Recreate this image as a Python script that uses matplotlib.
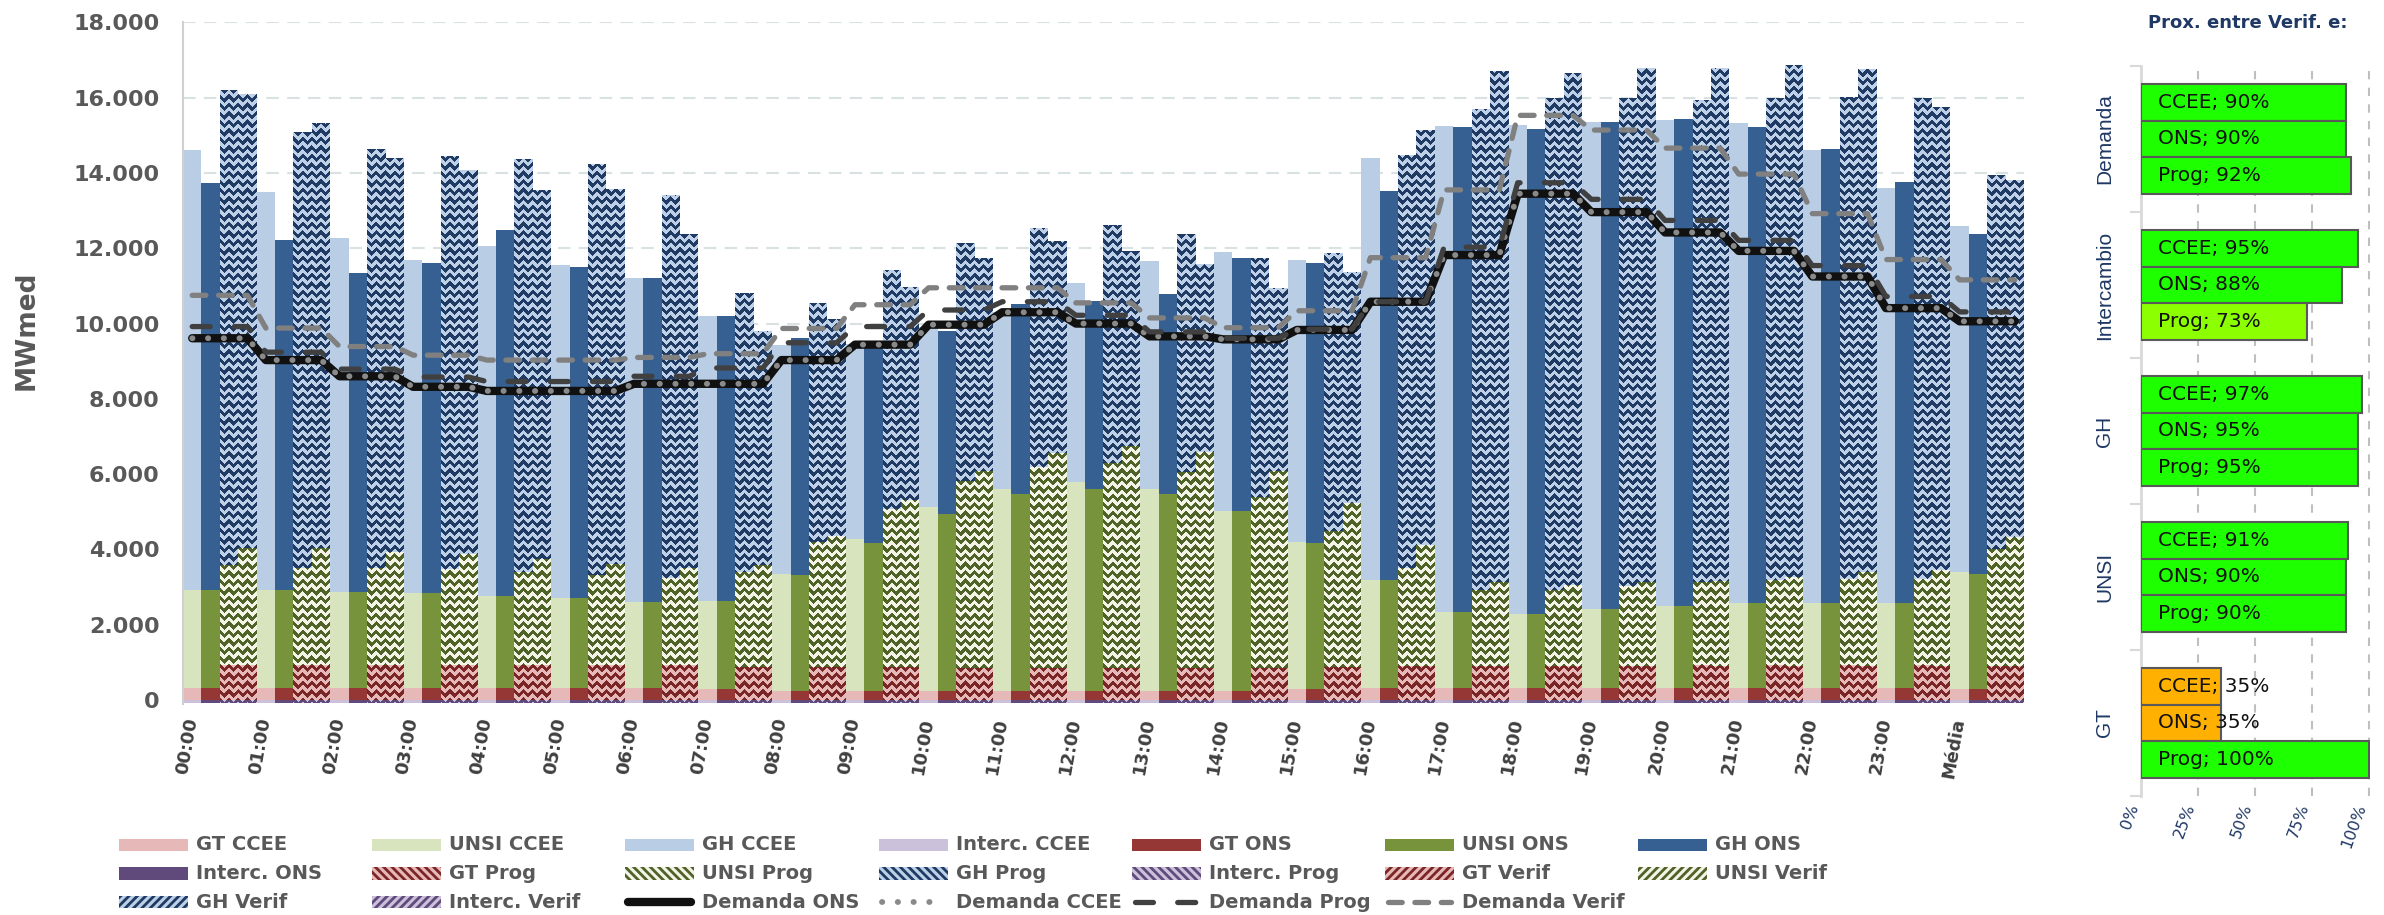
import numpy as np
import matplotlib
matplotlib.use("Agg")
import matplotlib.pyplot as plt
from matplotlib.patches import Rectangle
from matplotlib.lines import Line2D
from matplotlib.path import Path
from matplotlib import font_manager

# ---------------------------------------------------------------- data (MWmed)
hour_labels = [f"{h:02d}:00" for h in range(24)] + ["Média"]

gt_ccee = [330, 330, 330, 330, 330, 330, 320, 280, 250, 250, 250, 250, 250, 250, 250, 300, 310, 310, 310, 310, 310, 310, 310, 310, 300]
unsi_ccee = [2600, 2580, 2550, 2520, 2440, 2370, 2290, 2360, 3100, 4030, 4870, 5360, 5530, 5360, 4780, 3890, 2870, 2040, 1980, 2110, 2200, 2260, 2280, 2260, 3110]
gh_ccee = [11670, 10580, 9380, 8850, 9300, 8850, 8610, 7550, 6080, 5170, 4780, 4690, 5300, 6040, 6870, 7490, 11230, 12900, 12980, 12940, 12910, 12770, 12020, 11030, 9170]
interc_ccee = [-90] * 25

gt_ons = [330, 330, 330, 330, 330, 330, 320, 280, 250, 250, 250, 250, 250, 250, 250, 290, 310, 310, 310, 310, 310, 310, 310, 310, 290]
unsi_ons = [2600, 2580, 2550, 2520, 2440, 2370, 2290, 2360, 3060, 3910, 4690, 5220, 5360, 5220, 4780, 3870, 2870, 2040, 1980, 2110, 2200, 2260, 2280, 2260, 3060]
gh_ons = [10810, 9320, 8450, 8770, 9720, 8810, 8610, 7550, 6300, 5240, 4860, 5060, 4980, 5310, 6720, 7460, 10330, 12880, 12870, 12940, 12930, 12650, 12040, 11200, 9040]
interc_ons = [-90] * 25

gt_prog = [930, 930, 930, 930, 930, 930, 920, 880, 880, 870, 860, 860, 860, 860, 860, 890, 900, 910, 910, 910, 920, 920, 920, 920, 900]
unsi_prog = [2650, 2590, 2590, 2560, 2480, 2400, 2320, 2530, 3330, 4210, 4950, 5340, 5430, 5200, 4530, 3600, 2600, 2000, 2000, 2110, 2210, 2260, 2300, 2300, 3120]
gh_prog = [12620, 11560, 11120, 10950, 10970, 10920, 10170, 7410, 6330, 6330, 6340, 6350, 6340, 6310, 6340, 7380, 10990, 12780, 13070, 12960, 12810, 12820, 12810, 12780, 9920]
interc_prog = [-90] * 25

gt_verif = [930, 930, 930, 930, 930, 930, 920, 880, 880, 870, 860, 860, 860, 860, 860, 880, 900, 910, 910, 910, 910, 910, 910, 910, 900]
unsi_verif = [3110, 3110, 3000, 2950, 2810, 2680, 2580, 2700, 3480, 4440, 5230, 5700, 5900, 5730, 5230, 4350, 3230, 2220, 2150, 2220, 2240, 2350, 2480, 2550, 3440]
gh_verif = [12070, 11290, 10480, 10200, 9800, 9970, 8870, 6230, 5750, 5660, 5660, 5620, 5170, 5000, 4860, 6140, 11010, 13570, 13590, 13650, 13630, 13610, 13370, 12290, 9460]
interc_verif = [-90] * 25

dem_ons = [9610, 9030, 8600, 8320, 8210, 8210, 8400, 8400, 9030, 9440, 9970, 10300, 10000, 9660, 9580, 9830, 10580, 11820, 13450, 12960, 12420, 11930, 11250, 10410, 10060]
dem_ccee = [9610, 9030, 8600, 8320, 8210, 8210, 8400, 8400, 9030, 9440, 9970, 10300, 10000, 9660, 9580, 9830, 10580, 11820, 13450, 12960, 12420, 11930, 11250, 10410, 10060]
dem_prog = [9920, 9240, 8790, 8580, 8460, 8460, 8600, 8820, 9490, 9920, 10360, 10580, 10220, 9780, 9610, 9850, 10580, 12030, 13740, 13300, 12740, 12210, 11540, 10720, 10310]
dem_verif = [10750, 9880, 9390, 9160, 9030, 9030, 9100, 9200, 9870, 10500, 10950, 10950, 10550, 10150, 9890, 10340, 11750, 13550, 15530, 15140, 14660, 13970, 12920, 11700, 11160]

# proximity between verified values and each source (%)
prox_categories = ["Demanda", "Intercambio", "GH", "UNSI", "GT"]
prox_sources = ["CCEE", "ONS", "Prog"]
prox_ccee = [90, 95, 97, 91, 35]
prox_ons = [90, 88, 95, 90, 35]
prox_prog = [92, 73, 95, 90, 100]

# ---------------------------------------------------------------- styling
W_PX, H_PX = 2384, 915
available = {f.name for f in font_manager.fontManager.ttflist}
NARROW = "Liberation Sans Narrow" if "Liberation Sans Narrow" in available else "Liberation Sans"
GRAY_TXT = "#595959"
NAVY = "#1F3864"

SOLID = {
    "CCEE": {"GT": "#E6B9B8", "UNSI": "#D7E4BD", "GH": "#B9CDE5", "Interc": "#CCC1DA"},
    "ONS": {"GT": "#953735", "UNSI": "#77933C", "GH": "#366092", "Interc": "#604A7B"},
}
# (pattern colour, background colour) for the patterned series
PATTERN = {
    "GT": ("#7A2626", "#E6B9B8"),
    "UNSI": ("#4F6228", "#F4F4E6"),
    "GH": ("#1F3A63", "#BDD0E7"),
    "Interc": ("#604A7B", "#CCC1DA"),
}

plt.rcParams["font.family"] = ["DejaVu Sans"]
plt.rcParams["hatch.linewidth"] = 2.0

fig = plt.figure(figsize=(W_PX / 100, H_PX / 100), dpi=100)

YMIN, YMAX = -100, 18010
ax_l, ax_r, ax_t, ax_b = 183, 2024, 22, 703.8
ax = fig.add_axes([ax_l / W_PX, 1 - ax_b / H_PX, (ax_r - ax_l) / W_PX, (ax_b - ax_t) / H_PX])

n = len(hour_labels)
groups = np.arange(n)
bw = 0.25

series = [
    ("CCEE", {"GT": gt_ccee, "UNSI": unsi_ccee, "GH": gh_ccee, "Interc": interc_ccee}),
    ("ONS", {"GT": gt_ons, "UNSI": unsi_ons, "GH": gh_ons, "Interc": interc_ons}),
    ("Prog", {"GT": gt_prog, "UNSI": unsi_prog, "GH": gh_prog, "Interc": interc_prog}),
    ("Verif", {"GT": gt_verif, "UNSI": unsi_verif, "GH": gh_verif, "Interc": interc_verif}),
]

patterned = {k: [] for k in PATTERN}
for j, (name, comps) in enumerate(series):
    x = groups + (j + 0.5) * bw
    bottom = np.zeros(n)
    for comp in ["GT", "UNSI", "GH"]:
        vals = np.asarray(comps[comp], dtype=float)
        color = SOLID[name][comp] if name in SOLID else PATTERN[comp][1]
        bc = ax.bar(x, vals, bw, bottom=bottom, color=color, linewidth=0, zorder=2)
        bottom += vals
        if name not in SOLID:
            patterned[comp].extend(bc.patches)
    vals = np.asarray(comps["Interc"], dtype=float)
    color = SOLID[name]["Interc"] if name in SOLID else PATTERN["Interc"][1]
    bc = ax.bar(x, vals, bw, color=color, linewidth=0, zorder=2)
    if name not in SOLID:
        patterned["Interc"].extend(bc.patches)

# zig-zag fill for the Prog / Verif columns, clipped to their bars
pix_w = int(round(ax_r - ax_l))
pix_h = int(round(ax_b - ax_t))
period_x = pix_w / n / 8.0
period_y = 8.5
cols = np.arange(pix_w) + 0.5
rows = np.arange(pix_h) + 0.5
u = (cols / period_x) % 1.0
phase = rows[:, None] / period_y + np.abs(u[None, :] - 0.5) * period_x / period_y
mask = (phase % 1.0) < 0.5


def to_rgb(c):
    return np.array(matplotlib.colors.to_rgb(c))


for comp, patches in patterned.items():
    fg, bg = PATTERN[comp]
    img = np.where(mask[..., None], to_rgb(fg), to_rgb(bg))
    paths = [p.get_path().transformed(p.get_patch_transform()) for p in patches]
    clip = Path.make_compound_path(*paths)
    im = ax.imshow(img, extent=(0, n, YMIN, YMAX), origin="upper", aspect="auto",
                   interpolation="nearest", zorder=2.2)
    im.set_clip_path(clip, ax.transData)

# demand lines: one point per column, flat across each hour
offs = (np.arange(4) + 0.5) * bw
lx = (groups[:, None] + offs[None, :]).ravel()


def per_column(v):
    return np.repeat(np.asarray(v, dtype=float), 4)


LINE_STYLES = {
    "Demanda ONS": dict(color="#111111", lw=6.0, solid_capstyle="round", solid_joinstyle="round"),
    "Demanda CCEE": dict(color="#8A8A8A", lw=4.2, linestyle=(0, (0.05, 2.65)), dash_capstyle="round"),
    "Demanda Prog": dict(color="#404040", lw=3.8, linestyle=(0, (3.4, 4.6)), dash_capstyle="round"),
    "Demanda Verif": dict(color="#808080", lw=3.8, linestyle=(0, (2.6, 2.4)), dash_capstyle="round"),
}
ax.plot(lx, per_column(dem_ons), zorder=4, **LINE_STYLES["Demanda ONS"])
ax.plot(lx, per_column(dem_ccee), zorder=5, **LINE_STYLES["Demanda CCEE"])
ax.plot(lx, per_column(dem_prog), zorder=5, **LINE_STYLES["Demanda Prog"])
ax.plot(lx, per_column(dem_verif), zorder=5, **LINE_STYLES["Demanda Verif"])

ax.set_xlim(0, n)
ax.set_ylim(YMIN, YMAX)
yt = np.arange(0, 18001, 2000)
ax.set_yticks(yt)
ax.set_yticklabels([f"{v:,}".replace(",", ".") for v in yt], fontsize=16, fontweight="bold", color=GRAY_TXT)
ax.set_xticks(groups + 0.05)
ax.set_xticklabels(hour_labels, rotation=80, fontsize=13, fontweight="bold", color="#404040")
ax.tick_params(axis="y", length=0, pad=17)
ax.tick_params(axis="x", length=0, pad=9)
ax.set_axisbelow(True)
ax.yaxis.grid(True, color="#D9E2E2", linewidth=1.5, linestyle=(0, (6, 4)))
for s in ["top", "right", "bottom"]:
    ax.spines[s].set_visible(False)
ax.spines["left"].set_color("#D0D0D0")
ax.spines["left"].set_linewidth(1.5)

fig.text(27 / W_PX, 1 - 330 / H_PX, "MWmed", rotation=90, ha="center", va="center",
         fontsize=19, fontweight="bold", color=GRAY_TXT)

# ---------------------------------------------------------------- legend
legend_items = [
    ("GT CCEE", "patch", SOLID["CCEE"]["GT"], None, None),
    ("UNSI CCEE", "patch", SOLID["CCEE"]["UNSI"], None, None),
    ("GH CCEE", "patch", SOLID["CCEE"]["GH"], None, None),
    ("Interc. CCEE", "patch", SOLID["CCEE"]["Interc"], None, None),
    ("GT ONS", "patch", SOLID["ONS"]["GT"], None, None),
    ("UNSI ONS", "patch", SOLID["ONS"]["UNSI"], None, None),
    ("GH ONS", "patch", SOLID["ONS"]["GH"], None, None),
    ("Interc. ONS", "patch", SOLID["ONS"]["Interc"], None, None),
    ("GT Prog", "patch", PATTERN["GT"][1], PATTERN["GT"][0], "\\\\\\\\"),
    ("UNSI Prog", "patch", PATTERN["UNSI"][1], PATTERN["UNSI"][0], "\\\\\\\\"),
    ("GH Prog", "patch", PATTERN["GH"][1], PATTERN["GH"][0], "\\\\\\\\"),
    ("Interc. Prog", "patch", PATTERN["Interc"][1], PATTERN["Interc"][0], "\\\\\\\\"),
    ("GT Verif", "patch", PATTERN["GT"][1], PATTERN["GT"][0], "////"),
    ("UNSI Verif", "patch", PATTERN["UNSI"][1], PATTERN["UNSI"][0], "////"),
    ("GH Verif", "patch", PATTERN["GH"][1], PATTERN["GH"][0], "////"),
    ("Interc. Verif", "patch", PATTERN["Interc"][1], PATTERN["Interc"][0], "////"),
    ("Demanda ONS", "line", None, None, None),
    ("Demanda CCEE", "line", None, None, None),
    ("Demanda Prog", "line", None, None, None),
    ("Demanda Verif", "line", None, None, None),
]


def fx(px):
    return px / W_PX


def fy(py):
    return 1 - py / H_PX


row_y = [845, 873.5, 902]
col_x0, col_dx = 119, 253.2
key_w, key_h, text_dx = 69, 12.5, 77
for i, (label, kind, face, hcol, hatch) in enumerate(legend_items):
    r, c = divmod(i, 7)
    x0 = col_x0 + c * col_dx
    yc = row_y[r]
    if kind == "patch":
        rect = Rectangle((fx(x0), fy(yc + key_h / 2)), key_w / W_PX, key_h / H_PX,
                         transform=fig.transFigure, facecolor=face,
                         edgecolor=hcol if hcol else face, hatch=hatch, linewidth=0)
        fig.add_artist(rect)
    else:
        fig.add_artist(Line2D([fx(x0 + 3), fx(x0 + key_w - 3)], [fy(yc), fy(yc)],
                              transform=fig.transFigure, **LINE_STYLES[label]))
    fig.text(fx(x0 + text_dx), fy(yc), label, ha="left", va="center",
             fontsize=14, fontweight="bold", color=GRAY_TXT)

# ---------------------------------------------------------------- proximity panel
p_l, p_t, p_b = 2141, 66, 796
p_w = 228 * 1.005
ax2 = fig.add_axes([p_l / W_PX, 1 - p_b / H_PX, p_w / W_PX, (p_b - p_t) / H_PX])
ax2.set_xlim(0, 100.5)
ax2.set_ylim(len(prox_categories) - 0.5, -0.5)


def prox_color(v):
    if v >= 80:
        return "#1EFF00"
    if v >= 60:
        return "#8CFF00"
    return "#FFB000"


bh = 0.251
cat_y = np.arange(len(prox_categories))
for j, vals in enumerate([prox_ccee, prox_ons, prox_prog]):
    yj = cat_y + (j - 1) * bh
    ax2.barh(yj, vals, height=bh, color=[prox_color(v) for v in vals],
             edgecolor="#595959", linewidth=1.5, zorder=3)
    for yy, v in zip(yj, vals):
        ax2.text(7.5, yy, f"{prox_sources[j]}; {v}%", ha="left", va="center",
                 fontsize=14.5, color="#111111", zorder=4)

ax2.set_xticks([0, 25, 50, 75, 100])
ax2.set_xticklabels(["0%", "25%", "50%", "75%", "100%"], rotation=70, ha="right",
                    fontsize=11.5, color=NAVY)
ax2.tick_params(axis="x", length=0, pad=4)
ax2.set_axisbelow(True)
ax2.xaxis.grid(True, color="#BFBFBF", linewidth=1.5, linestyle=(0, (4, 4)))
ax2.set_yticks(cat_y)
ax2.set_yticklabels(prox_categories, rotation=90, va="center", ha="center",
                    fontsize=15, color=NAVY, family=[NARROW, "DejaVu Sans"])
ax2.tick_params(axis="y", which="major", length=0, pad=26)
ax2.set_yticks(np.arange(len(prox_categories) + 1) - 0.5, minor=True)
ax2.tick_params(axis="y", which="minor", length=8, width=1.5, color="#D9D9D9", direction="out")
for s in ["top", "right", "bottom"]:
    ax2.spines[s].set_visible(False)
ax2.spines["left"].set_color("#D9D9D9")
ax2.spines["left"].set_linewidth(2)

fig.text(2248 / W_PX, 1 - 23 / H_PX, "Prox. entre Verif. e:", ha="center", va="center",
         fontsize=13, fontweight="bold", color=NAVY)

fig.savefig("out.png", dpi=100)
